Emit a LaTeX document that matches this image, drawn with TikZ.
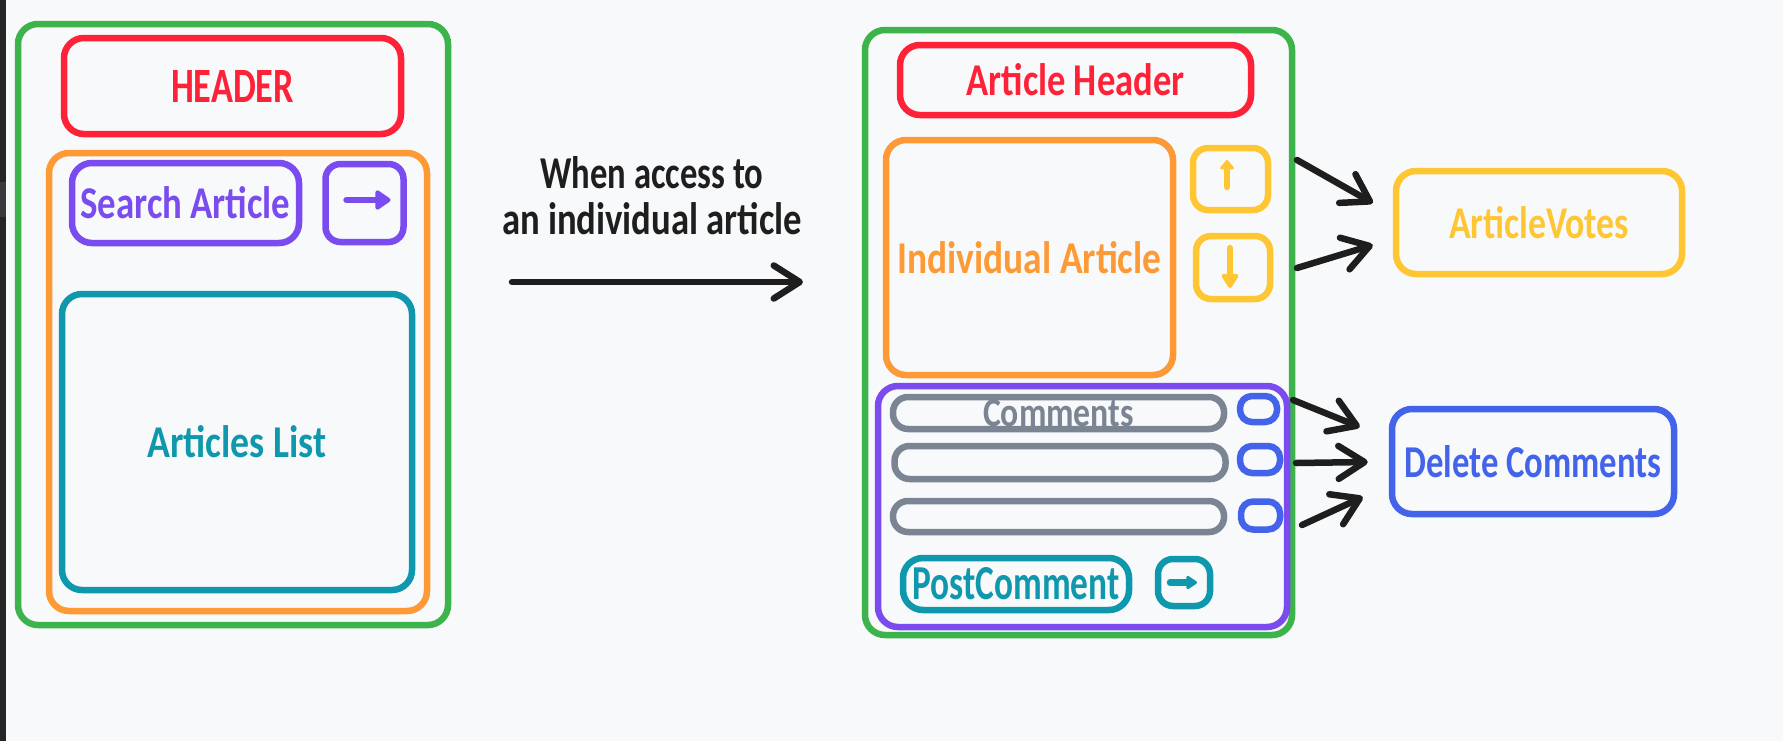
\documentclass[tikz,border=0pt]{standalone}
\usepackage{fontspec}
\usepackage{graphicx}
\setmainfont{Carlito}
\usetikzlibrary{positioning,arrows.meta}
\definecolor{expaper}{HTML}{F8F9FA}
\definecolor{exstrip}{HTML}{252526}
\definecolor{exband}{HTML}{3A3A3C}
\definecolor{exink}{HTML}{1E1E1E}
\definecolor{exgreen}{HTML}{3CB34B}
\definecolor{exred}{HTML}{FE2238}
\definecolor{exorange}{HTML}{FD9A35}
\definecolor{exviolet}{HTML}{7A4CF0}
\definecolor{excyan}{HTML}{0F98AD}
\definecolor{exyellow}{HTML}{FFC633}
\definecolor{exblue}{HTML}{4364EA}
\definecolor{exgray}{HTML}{7A8492}
\newcommand{\sketchtext}[3][3.2mm]{\resizebox{#2}{#1}{\bfseries #3}}
\tikzset {
box/.style={shape=rectangle,draw,line width=0.65mm,rounded corners=2mm,inner sep=0pt},
btn/.style={box,rounded corners=1.5mm},
row/.style={box,draw=exgray,rounded corners=1.5mm,minimum width=33.1mm,minimum height=3.2mm},
delbtn/.style={box,draw=exblue,rounded corners=1.2mm,minimum width=3.9mm,minimum height=2.8mm},
link/.style={draw=exink,line width=0.65mm,line cap=round,-{Straight Barb[length=2.6mm,width=3.3mm,round]}},
icon/.style={line width=0.65mm,line cap=round}
}

\begin{document}
\begin{tikzpicture}
[x=0.1mm,y=-0.1mm]
\useasboundingbox (0,0) rectangle (1783,741);
\fill[expaper] (0,0) rectangle (1783,741);
\fill[exstrip] (0,0) rectangle (6,741);
\fill[exband] (0,182) rectangle (6,217);

% list view
\node[box,draw=exgreen,minimum width=43mm,minimum height=60.1mm] (list page) at (233,324.5) {};
\node[box,draw=exred,text=exred,minimum width=33.7mm,minimum height=9.6mm] (header) at (232.5,86) {\sketchtext{12.3mm}{HEADER}};
\node[box,draw=exorange,minimum width=37.8mm,minimum height=45.8mm] (list panel) at (238,382) {};
\node[box,draw=exviolet,text=exviolet,minimum width=22.7mm,minimum height=8mm] (search) at (185.5,203) {\sketchtext{21mm}{Search Article}};
\node[btn,draw=exviolet,minimum size=7.8mm] (search btn) [right=2mm of search] {};
\node[box,draw=excyan,text=excyan,minimum width=35mm,minimum height=29.6mm] (articles) at (237,442) {\sketchtext{17.9mm}{Articles List}};
\draw[icon,draw=exviolet,-{Triangle[length=1.7mm,width=2.2mm,round]}] ([shift={(-18,-3)}]search btn.center) -- ([shift={(26,-3)}]search btn.center);

% transition
\node[text=exink,align=center,inner sep=0pt,font=\fontsize{10pt}{13pt}\selectfont] (access) at (652,196) {\sketchtext{22.3mm}{When access to}\\\sketchtext{30mm}{an individual article}};
\coordinate (go from) at (512,282);
\coordinate (go to) at (803,282);
\draw[link] (go from) -- (go to);

% article view
\node[box,draw=exgreen,minimum width=42.7mm,minimum height=60.5mm] (article page) at (1078.5,332.5) {};
\node[box,draw=exred,text=exred,minimum width=35.1mm,minimum height=7mm] (article header) at (1075.5,80) {\sketchtext{21.8mm}{Article Header}};
\node[box,draw=exorange,text=exorange,minimum width=28.7mm,minimum height=23.5mm] (article) at (1029.5,257.5) {\sketchtext{26.4mm}{Individual Article}};
\node[btn,draw=exyellow,minimum width=7.5mm,minimum height=6.2mm] (up vote) at (1230.5,179) {};
\node[btn,draw=exyellow,minimum width=7.4mm,minimum height=6.3mm] (down vote) at (1233,267.5) {};
\draw[icon,draw=exyellow,-{Triangle[length=1mm,width=1.6mm,round]}] ([shift={(-3.5,8)}]up vote.center) -- ([shift={(-3.5,-19)}]up vote.center);
\draw[icon,draw=exyellow,-{Triangle[length=1.6mm,width=1.9mm,round]}] ([shift={(-3,-19.5)}]down vote.center) -- ([shift={(-3,20.5)}]down vote.center);

\node[box,draw=exviolet,minimum width=40.9mm,minimum height=24.1mm] (comments) at (1082.5,506.5) {};
\node[row,text=exgray] (comment one) at (1058.5,413) {\sketchtext[2.7mm]{15.1mm}{Comments}};
\node[row,minimum height=3.3mm] (comment two) at (1060,462.5) {};
\node[row,minimum height=3.1mm] (comment three) at (1058.5,516.5) {};
\node[delbtn,minimum width=3.7mm,minimum height=2.6mm] (delete one) at (1258.5,409) {};
\node[delbtn,minimum width=4mm,minimum height=2.7mm] (delete two) at (1260,459.5) {};
\node[delbtn] (delete three) at (1260.5,515.5) {};
\node[box,draw=excyan,text=excyan,minimum width=22.6mm,minimum height=5.2mm] (post) at (1016,584) {\sketchtext{20.7mm}{PostComment}};
\node[btn,draw=excyan,minimum width=5.2mm,minimum height=4.7mm] (post btn) at (1184,582.5) {};
\draw[icon,draw=excyan,-{Triangle[length=1.2mm,width=1.5mm,round]}] ([shift={(-14,0)}]post btn.center) -- ([shift={(13,0)}]post btn.center);

% components
\node[box,draw=exyellow,text=exyellow,minimum width=28.6mm,minimum height=10.3mm] (votes) at (1539,222.5) {\sketchtext{18mm}{ArticleVotes}};
\node[box,draw=exblue,text=exblue,minimum width=28.2mm,minimum height=10.5mm] (delete) at (1533,461.5) {\sketchtext{25.7mm}{Delete Comments}};

\coordinate (vote a) at (1297,160);
\coordinate (vote b) at (1297,268);
\coordinate (del a) at (1293,400);
\coordinate (del b) at (1296,463);
\coordinate (del c) at (1302,525);
\draw[link] (vote a) -- ([shift={(-20,-19.5)}]votes.west);
\draw[link] (vote b) -- ([shift={(-20,22.5)}]votes.west);
\draw[link] (del a) -- ([shift={(-29,-34.5)}]delete.west);
\draw[link] (del b) -- ([shift={(-21,0.5)}]delete.west);
\draw[link] (del c) -- ([shift={(-26,35.5)}]delete.west);
\end{tikzpicture}
\end{document}
